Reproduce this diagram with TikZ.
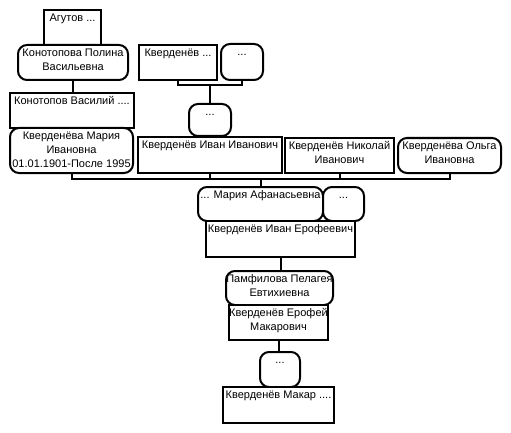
\documentclass[tikz,border=0pt]{standalone}
\usepackage{fontspec}
\setmainfont{Liberation Sans}
\newcommand\famnode[8]{%
  \node[#2, minimum width={(#5-#3)*1pt}, minimum height={(#6-#4)*1pt}] (#1) at (#3,#4) {};
  \node[txt, text height={(8+(#7-1)*13.7)*1pt}] (#1-t) at ([yshift=-3.5pt]#1.north) {#8};
}
\begin{document}
\begin{tikzpicture}[x=1pt,y=-1pt,
  box/.style={draw, line width=2pt, fill=white, inner sep=0pt, outer sep=0pt, anchor=north west},
  man/.style={box},
  woman/.style={box, rounded corners=9pt},
  txt/.style={font=\fontsize{11}{13.7}\selectfont, align=center, inner sep=0pt, anchor=north},
  link/.style={line width=2pt}]
\fill[white] (0,0) rectangle (511,433);
\useasboundingbox (0,0) rectangle (511,433);

\famnode{ag}{man}{44}{10}{101}{45}{1}{Агутов ...}
\famnode{kpol}{woman}{18}{45}{128}{80}{2}{Конотопова Полина\\Васильевна}
\famnode{kvas}{man}{10}{93}{134}{128}{1}{Конотопов Василий ....}
\famnode{mi}{woman}{10}{128}{133}{173}{3}{Кверденёва Мария\\Ивановна\\01.01.1901-После 1995}
\famnode{kv}{man}{139}{45}{217}{80}{1}{Кверденёв ...}
\famnode{kvw}{woman}{221}{44}{263}{80}{1}{...}
\famnode{ch}{woman}{189}{104}{231}{136}{1}{...}
\famnode{ii}{man}{138}{137}{282}{173}{1}{Кверденёв Иван Иванович}
\famnode{nik}{man}{285}{138}{394}{173}{2}{Кверденёв Николай\\Иванович}
\famnode{olga}{woman}{398}{138}{501}{173}{2}{Кверденёва Ольга\\Ивановна}
\famnode{maf}{woman}{198}{187}{323}{221}{1}{... Мария Афанасьевна}
\famnode{maf2}{woman}{323}{187}{364}{221}{1}{...}
\famnode{ie}{man}{206}{221}{355}{257}{1}{Кверденёв Иван Ерофеевич}
\famnode{pam}{woman}{226}{271}{333}{305}{2}{Памфилова Пелагея\\Евтихиевна}
\famnode{ef}{man}{229}{305}{328}{340}{2}{Кверденёв Ерофей\\Макарович}
\famnode{md}{woman}{260}{352}{300}{387}{1}{...}
\famnode{mak}{man}{223}{387}{334}{423}{1}{Кверденёв Макар ....}

\coordinate (b1) at (210,85);
\coordinate (b2) at (260,179);
\draw[link] (kpol.south) -- (kpol.south |- kvas.north);
\draw[link] (kv.south) |- (b1) -| (kvw.south);
\draw[link] (b1) -- (ch.north);
\draw[link] (mi.south) |- (b2) -| (olga.south);
\draw[link] (ii.south) -- (ii.south |- b2);
\draw[link] (nik.south) -- (nik.south |- b2);
\draw[link] (maf.north) -- (maf.north |- b2);
\draw[link] (ie.south) -- (ie.south |- pam.north);
\draw[link] (ef.south) -- (ef.south |- md.north);
\end{tikzpicture}
\end{document}
